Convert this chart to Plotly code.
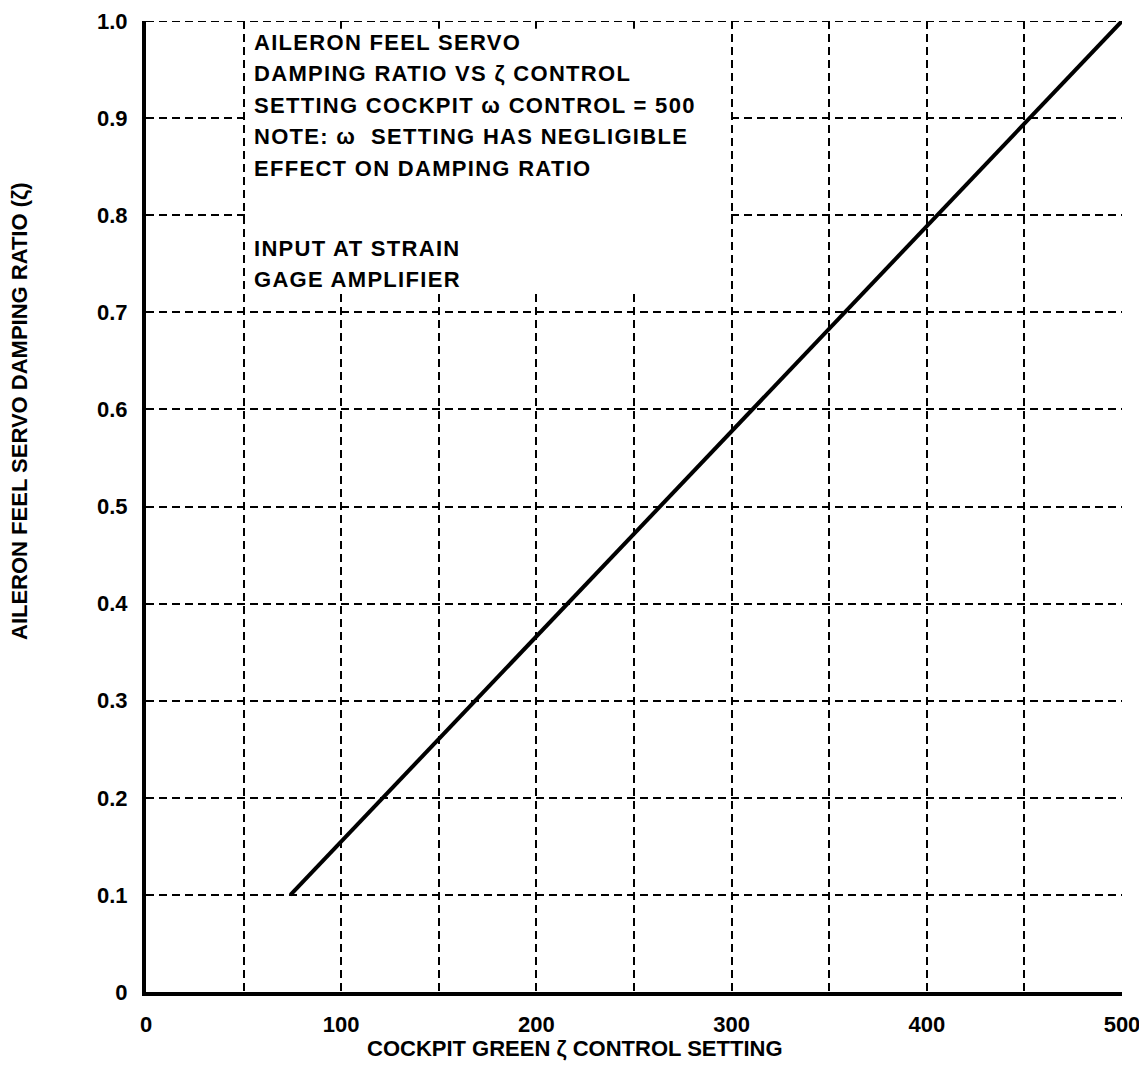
import plotly.graph_objects as go

# Data
setting = [74, 500]
damping = [0.10, 1.00]

x_tick_vals = [0, 100, 200, 300, 400, 500]
x_tick_text = ["0", "100", "200", "300", "400", "500"]
y_tick_vals = [0, 0.1, 0.2, 0.3, 0.4, 0.5, 0.6, 0.7, 0.8, 0.9, 1.0]
y_tick_text = ["0", "0.1", "0.2", "0.3", "0.4", "0.5", "0.6", "0.7", "0.8", "0.9", "1.0"]

note_lines = [
    "AILERON FEEL SERVO",
    "DAMPING RATIO VS ζ CONTROL",
    "SETTING COCKPIT ω CONTROL = 500",
    "NOTE: ω  SETTING HAS NEGLIGIBLE",
    "EFFECT ON DAMPING RATIO",
]
input_lines = ["INPUT AT STRAIN", "GAGE AMPLIFIER"]
x_title = "COCKPIT GREEN ζ CONTROL SETTING"
y_title = "AILERON FEEL SERVO DAMPING RATIO (ζ)"

FONT = "Liberation Sans, Arial, Helvetica, sans-serif"

# page body adds an 8px offset, so the figure is sized to compensate
PAGE_OFF = 8
W, H = 1147 - PAGE_OFF, 1080 - PAGE_OFF
L, R, T, B = 138, 25, 13, 88
plot_w = W - L - R
plot_h = H - T - B

fig = go.Figure()
fig.add_trace(go.Scatter(x=setting, y=damping, mode="lines",
                         line=dict(color="black", width=4), showlegend=False,
                         hoverinfo="skip", cliponaxis=False))

grid_dash = "8px,5px"
fig.update_xaxes(
    range=[0, 500], tickvals=x_tick_vals, ticktext=x_tick_text,
    showgrid=True, gridcolor="black", gridwidth=1.8, griddash=grid_dash,
    minor=dict(dtick=50, tick0=0, showgrid=True, gridcolor="black",
               gridwidth=1.8, griddash=grid_dash),
    showline=True, linecolor="black", linewidth=4, zeroline=False,
    ticks="", ticklabelstandoff=10, automargin=False, ticklabeloverflow="allow",
    tickfont=dict(family=FONT, size=22, color="black", weight="bold"),
)
fig.update_yaxes(
    range=[0, 1.0], tickvals=y_tick_vals, ticktext=y_tick_text,
    showgrid=True, gridcolor="black", gridwidth=1.8, griddash=grid_dash,
    showline=True, linecolor="black", linewidth=4, zeroline=False,
    ticks="", ticklabelstandoff=10, automargin=False, ticklabeloverflow="allow",
    tickfont=dict(family=FONT, size=22, color="black", weight="bold"),
)

# top edge dashed rule (y = 1.0 grid line at the range edge)
fig.add_shape(type="line", xref="paper", yref="y", x0=0, x1=1, y0=1.0, y1=1.0,
              line=dict(color="black", width=1.8, dash=grid_dash), layer="between")

# white panel behind the note text (covers grid only)
fig.add_shape(type="rect", xref="x", yref="y", x0=51.8, x1=298.2, y0=0.72, y1=0.992,
              fillcolor="white", line=dict(width=0), layer="between")

def add_block(lines, first_offset, pitch=31.5):
    for i, txt in enumerate(lines):
        fig.add_annotation(
            xref="x", yref="y", x=54.5, y=1.0, xanchor="left", yanchor="middle",
            yshift=-(first_offset + i * pitch),
            text='<span style="letter-spacing:1.3px">' + txt + '</span>',
            showarrow=False, align="left",
            font=dict(family=FONT, size=22, color="black", weight="bold"))

add_block(note_lines, 21)
add_block(input_lines, 227)

# axis titles
fig.add_annotation(xref="paper", yref="paper", x=(575 - PAGE_OFF - L) / plot_w, y=0,
                   yshift=-56, xanchor="center", yanchor="middle",
                   text=x_title, showarrow=False,
                   font=dict(family=FONT, size=22, color="black", weight="bold"))
fig.add_annotation(xref="paper", yref="paper", x=0, xshift=-(L - (20 - PAGE_OFF)),
                   y=(H - B - (411 - PAGE_OFF)) / plot_h, xanchor="center", yanchor="middle",
                   textangle=-90, text=y_title, showarrow=False,
                   font=dict(family=FONT, size=22, color="black", weight="bold"))

fig.update_layout(
    width=W, height=H,
    margin=dict(l=L, r=R, t=T, b=B),
    paper_bgcolor="white", plot_bgcolor="white",
)

fig.write_html("out.html")
